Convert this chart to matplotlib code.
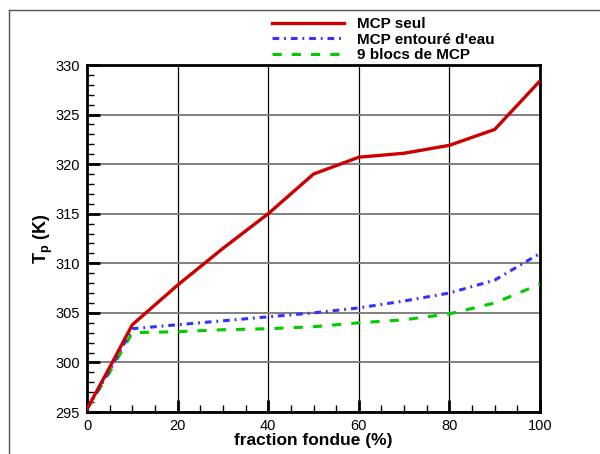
import matplotlib
matplotlib.use("Agg")
import matplotlib.pyplot as plt
from matplotlib.lines import Line2D
from matplotlib.ticker import MultipleLocator

plt.rcParams['font.family'] = ['Liberation Sans', 'DejaVu Sans']

fraction = [0, 5, 10, 20, 30, 40, 50, 60, 70, 80, 90, 100]
mcp_seul = [295.3, 299.5, 303.8, 307.8, 311.5, 315.0, 319.0, 320.7, 321.1, 321.9, 323.5, 328.4]
mcp_eau = [295.3, 299.2, 303.4, 303.8, 304.2, 304.6, 305.0, 305.5, 306.2, 307.0, 308.3, 311.0]
mcp_blocs = [295.3, 299.0, 303.0, 303.1, 303.3, 303.4, 303.6, 304.0, 304.3, 304.9, 306.0, 307.9]
labels = ["MCP seul", "MCP entouré d'eau", "9 blocs de MCP"]

fig = plt.figure(figsize=(6, 4.54), dpi=100)
ax = fig.add_axes([0.145, 0.0925, 0.755, 0.7643])

ax.plot(fraction, mcp_seul, color='#cc0000', lw=2.4, label=labels[0], zorder=5)
ax.plot(fraction, mcp_eau, color='#3333ff', lw=2.2, dashes=(2.2, 1.6, 0.6, 1.6), label=labels[1], zorder=4)
ax.plot(fraction, mcp_blocs, color='#00cc00', lw=2.2, dashes=(3, 3.3), label=labels[2], zorder=3)

ax.set_xlim(0, 100)
ax.set_ylim(295, 330)
ax.xaxis.set_major_locator(MultipleLocator(20))
ax.xaxis.set_minor_locator(MultipleLocator(5))
ax.yaxis.set_major_locator(MultipleLocator(5))
ax.yaxis.set_minor_locator(MultipleLocator(1))
ax.tick_params(which='major', direction='in', length=9, width=2, labelsize=10.5, pad=5, colors='black')
ax.tick_params(which='minor', direction='in', length=5, width=1)
ax.xaxis.grid(True, which='major', color='black', lw=0.9)
ax.yaxis.grid(True, which='major', color='#808080', lw=1.4)
ax.set_axisbelow(True)
for s in ax.spines.values():
    s.set_linewidth(2)

ax.set_xlabel('fraction fondue (%)', fontsize=12.5, fontweight='bold', labelpad=0)
ax.set_ylabel(r'T$_\mathregular{p}$ (K)', fontsize=13, fontweight='bold', labelpad=0)

leg = fig.legend(loc='upper left', bbox_to_anchor=(0.453, 0.962), frameon=False,
                 prop={'weight': 'bold', 'size': 11}, handlelength=4.7,
                 handletextpad=0.85, labelspacing=0.1, borderaxespad=0, borderpad=0)

fig.add_artist(Line2D([0.015, 1.0], [0.978, 0.978], color='#555555', lw=1, transform=fig.transFigure))
fig.add_artist(Line2D([0.015, 0.015], [0.0, 0.978], color='#555555', lw=1, transform=fig.transFigure))

fig.savefig('out.png', dpi=100)
